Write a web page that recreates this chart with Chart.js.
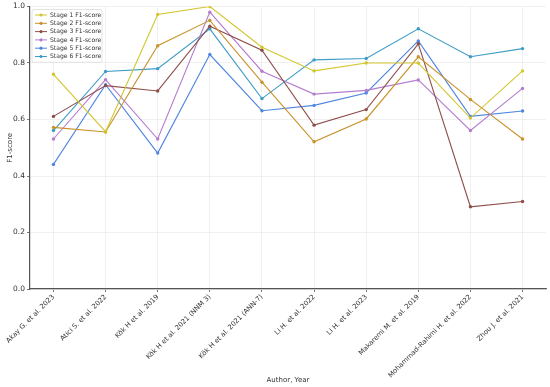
<!DOCTYPE html>
<html>
<head>
<meta charset="utf-8">
<script src="https://cdn.jsdelivr.net/npm/chart.js@4.4.1/dist/chart.umd.min.js"></script>
<style>
  html, body { margin: 0; padding: 0; background: #fff; }
  #wrap { width: 550px; height: 387px; }
</style>
</head>
<body>
<div id="wrap"><canvas id="f1Chart" width="550" height="387"></canvas></div>
<script>
// categories (x axis)
const authors = [
    'Akay G. et al. 2023',
    'Atici S. et al. 2022',
    'Kök H et al. 2019',
    'Kök H et al. 2021 (NNM 3)',
    'Kök H et al. 2021 (ANN-7)',
    'Li H. et al. 2022',
    'Li H. et al. 2023',
    'Makaremi M. et al. 2019',
    'Mohammad-Rahimi H. et al. 2022',
    'Zhou J. et al. 2021'
];

// F1-score per stage
const stage1 = [0.76, 0.557, 0.972, 1.0, 0.856, 0.772, 0.80, 0.80, 0.605, 0.772];
const stage2 = [0.572, 0.556, 0.861, 0.951, 0.732, 0.521, 0.602, 0.822, 0.671, 0.531];
const stage3 = [0.611, 0.72, 0.701, 0.93, 0.845, 0.58, 0.635, 0.868, 0.291, 0.31];
const stage4 = [0.531, 0.741, 0.531, 0.98, 0.771, 0.69, 0.703, 0.74, 0.561, 0.71];
const stage5 = [0.441, 0.723, 0.481, 0.83, 0.631, 0.65, 0.694, 0.878, 0.611, 0.63];
const stage6 = [0.561, 0.77, 0.78, 0.921, 0.674, 0.811, 0.816, 0.921, 0.822, 0.851];

const yTicks = [0.0, 0.2, 0.4, 0.6, 0.8, 1.0];

const seriesNames = ['Stage 1 F1-score', 'Stage 2 F1-score', 'Stage 3 F1-score',
                     'Stage 4 F1-score', 'Stage 5 F1-score', 'Stage 6 F1-score'];
const seriesValues = [stage1, stage2, stage3, stage4, stage5, stage6];
const seriesColors = ['#d2c62e', '#c9922a', '#8e4f4b', '#b47ed0', '#4f86e0', '#3d9cc6'];

const FONT = 'DejaVu Sans';

// legend drawn inside the plot area (top-left), matplotlib style
const insideLegend = {
    id: 'insideLegend',
    afterDraw(chart) {
        const ctx = chart.ctx;
        const area = chart.chartArea;
        const x0 = area.left + 2, y0 = area.top + 3;
        const w = 70, rowH = 8.3, h = rowH * 6 + 3;
        ctx.save();
        ctx.fillStyle = 'rgba(255,255,255,0.85)';
        ctx.strokeStyle = '#dcdcdc';
        ctx.lineWidth = 0.8;
        ctx.beginPath();
        ctx.roundRect(x0, y0, w, h, 2);
        ctx.fill();
        ctx.stroke();
        ctx.font = '6.1px "' + FONT + '"';
        ctx.textBaseline = 'middle';
        chart.data.datasets.forEach((ds, i) => {
            const cy = y0 + 5.5 + i * rowH;
            ctx.strokeStyle = ds.borderColor;
            ctx.lineWidth = 1;
            ctx.beginPath();
            ctx.moveTo(x0 + 3, cy);
            ctx.lineTo(x0 + 15, cy);
            ctx.stroke();
            ctx.fillStyle = ds.borderColor;
            ctx.beginPath();
            ctx.arc(x0 + 9, cy, 1.6, 0, Math.PI * 2);
            ctx.fill();
            ctx.fillStyle = '#333';
            ctx.fillText(ds.label, x0 + 18, cy + 0.3);
        });
        ctx.restore();
    }
};

const datasets = seriesNames.map((name, s) => ({
    label: name,
    data: seriesValues[s].map((v, i) => ({ x: i, y: v })),
    borderColor: seriesColors[s],
    backgroundColor: seriesColors[s],
    borderWidth: 1.1,
    pointRadius: 1.7,
    pointHoverRadius: 1.7,
    pointBorderWidth: 0,
    tension: 0
}));

new Chart(document.getElementById('f1Chart').getContext('2d'), {
    type: 'line',
    data: { datasets: datasets },
    plugins: [insideLegend],
    options: {
        responsive: false,
        animation: false,
        layout: { padding: { top: 3, right: 4, left: 6, bottom: 3 } },
        plugins: {
            legend: { display: false },
            tooltip: { enabled: false }
        },
        scales: {
            x: {
                type: 'linear',
                min: -0.45,
                max: authors.length - 1 + 0.45,
                afterBuildTicks: (scale) => {
                    scale.ticks = authors.map((_, i) => ({ value: i }));
                },
                afterFit: (scale) => { scale.height = 95; },
                ticks: {
                    autoSkip: false,
                    maxRotation: 45,
                    minRotation: 45,
                    padding: 1,
                    color: '#333',
                    font: { family: FONT, size: 6.8 },
                    callback: (v) => authors[v]
                },
                grid: { color: '#ececec', lineWidth: 0.8, tickLength: 3, tickColor: '#555' },
                border: { color: '#555', width: 1.2 },
                title: {
                    display: true,
                    text: 'Author, Year',
                    color: '#333',
                    font: { family: FONT, size: 7 },
                    padding: { top: 2, bottom: 0 }
                }
            },
            y: {
                min: 0,
                max: 1,
                afterBuildTicks: (scale) => {
                    scale.ticks = yTicks.map(v => ({ value: v }));
                },
                afterFit: (scale) => { scale.width = 24; },
                ticks: {
                    color: '#333',
                    padding: 2,
                    font: { family: FONT, size: 7.5 },
                    callback: (v) => v.toFixed(1)
                },
                grid: { color: '#ececec', lineWidth: 0.8, tickLength: 3, tickColor: '#555' },
                border: { color: '#555', width: 1.2 },
                title: {
                    display: true,
                    text: 'F1-score',
                    color: '#333',
                    font: { family: FONT, size: 7 },
                    padding: { top: 0, bottom: 2 }
                }
            }
        }
    }
});
</script>
</body>
</html>
